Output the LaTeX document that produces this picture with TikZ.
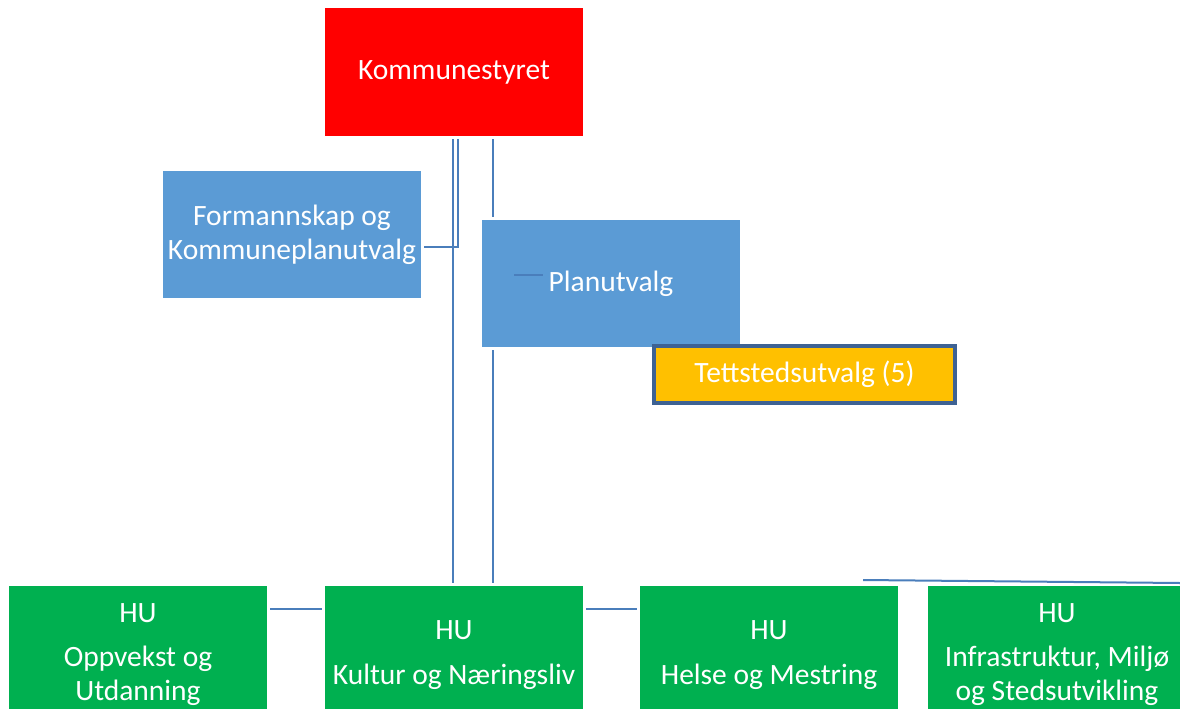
\documentclass[tikz,border=0pt]{standalone}
\usepackage{fontspec}
\setmainfont{Carlito}
\usepackage{tikz}
\usetikzlibrary{positioning}
\definecolor{ksred}{HTML}{FF0000}
\definecolor{utvblue}{HTML}{5B9BD5}
\definecolor{hugreen}{HTML}{00B050}
\definecolor{ttsorange}{HTML}{FFC000}
\definecolor{ttsborder}{HTML}{3E6293}
\definecolor{linkblue}{HTML}{4A7EBB}
\tikzset{
  orgbox/.style={
    rectangle, inner sep=0pt, outer sep=3pt,
    minimum width=258pt, minimum height=127pt,
    text=white, align=center,
    font=\fontsize{29.5}{34}\selectfont
  },
  hubox/.style={orgbox, fill=hugreen, minimum height=138pt},
  utvbox/.style={orgbox, fill=utvblue},
  link/.style={draw=linkblue, line width=2pt}
}

\begin{document}
\begin{tikzpicture}[x=1pt, y=-1pt]
\useasboundingbox (0,0) rectangle (1180,709);
\clip (0,0) rectangle (1180,709);
\node[orgbox, fill=ksred, minimum height=128pt] (ks) at (454,72) {Kommunestyret};
\node[utvbox] (fmk) at (292,234.5) {Formannskap og\\Kommuneplanutvalg};
\node[utvbox] (plu) at (611,283.5) {Planutvalg};
\node[orgbox, fill=ttsorange, draw=ttsborder, line width=4pt, minimum width=301pt, minimum height=57pt] (tts) at (804.5,374.5) {Tettstedsutvalg (5)};
\node[hubox] (opp) at (138,655) {HU\\[10pt]Oppvekst og\\Utdanning};
\node[hubox] (kul) at (454,655) {HU\\[11pt]Kultur og Næringsliv};
\node[hubox] (hel) at (769,655) {HU\\[11pt]Helse og Mestring};
\node[hubox] (inf) at (1057,655) {HU\\[10pt]Infrastruktur, Miljø\\og Stedsutvikling};

\coordinate (pluline) at ([xshift=39pt]ks.south);
\coordinate (stubA) at ([xshift=-97pt,yshift=8.5pt]plu.center);
\coordinate (stubB) at ([xshift=-68pt,yshift=8.5pt]plu.center);
\coordinate (infA) at (863,580);
\coordinate (infB) at (1180,583);

\draw[link] ([xshift=4pt]ks.south) |- ([yshift=-12.5pt]fmk.east);
\draw[link] ([xshift=-1pt]ks.south) -- ([xshift=-1pt]kul.north);
\draw[link] (pluline) -- (pluline |- plu.north);
\draw[link] (pluline |- plu.south) -- (pluline |- kul.north);
\draw[link] (stubA) -- (stubB);
\draw[link] ([yshift=46pt]opp.east) -- ([yshift=46pt]kul.west);
\draw[link] ([yshift=46pt]kul.east) -- ([yshift=46pt]hel.west);
\draw[link] (infA) -- (infB);
\end{tikzpicture}
\end{document}
